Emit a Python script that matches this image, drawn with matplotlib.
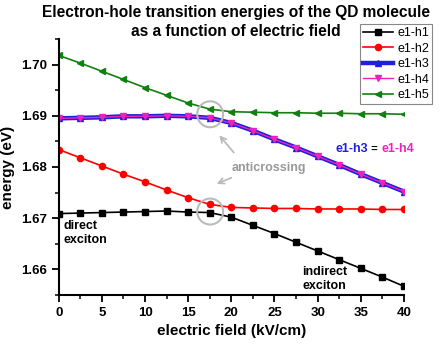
import numpy as np
import matplotlib.pyplot as plt
from matplotlib.patches import Ellipse

plt.rcParams['font.family'] = ['Liberation Sans', 'DejaVu Sans']

# DATA
field = [0, 2.5, 5, 7.5, 10, 12.5, 15, 17.5, 20, 22.5, 25, 27.5, 30, 32.5, 35, 37.5, 40]
e1h1 = [1.6709, 1.6710, 1.6711, 1.6712, 1.6713, 1.6714, 1.6712, 1.6711, 1.6702,
        1.6686, 1.6670, 1.6653, 1.6636, 1.6619, 1.6602, 1.6585, 1.6567]
e1h2 = [1.6834, 1.6818, 1.6802, 1.6786, 1.6771, 1.6755, 1.6740, 1.6727, 1.6721,
        1.6720, 1.6719, 1.6719, 1.6718, 1.6718, 1.6718, 1.6717, 1.6717]
e1h3 = [1.6895, 1.6896, 1.6897, 1.6899, 1.6899, 1.6900, 1.6899, 1.6896, 1.6886,
        1.6871, 1.6854, 1.6838, 1.6821, 1.6804, 1.6786, 1.6769, 1.6752]
e1h4 = e1h3
e1h5 = [1.7018, 1.7003, 1.6987, 1.6971, 1.6955, 1.6940, 1.6925, 1.6913, 1.6908,
        1.6907, 1.6906, 1.6906, 1.6905, 1.6905, 1.6904, 1.6904, 1.6903]

MAG = '#ee22bb'
BLUE = '#1f1fdd'

fig = plt.figure(figsize=(4.4, 3.47), dpi=100)
ax = fig.add_axes([0.1334, 0.1499, 0.7846, 0.7377])

ax.plot(field, e1h1, '-s', color='black', lw=1.2, ms=4.5, label='e1-h1')
ax.plot(field, e1h2, '-o', color='red', lw=1.2, ms=4.5, label='e1-h2')
ax.plot(field, e1h3, '-^', color=BLUE, lw=3.2, ms=5, label='e1-h3')
ax.plot(field, e1h4, '-v', color=MAG, lw=1.0, ms=5, label='e1-h4')
ax.plot(field, e1h5, '-<', color='#108010', lw=1.2, ms=5, label='e1-h5')

ax.set_xlim(0, 40)
ax.set_ylim(1.655, 1.7047)
ax.set_xticks(np.arange(0, 41, 5))
ax.set_xticks(np.arange(0, 41, 2.5), minor=True)
ax.set_yticks([1.66, 1.67, 1.68, 1.69, 1.70])
ax.set_yticks(np.arange(1.655, 1.705, 0.005), minor=True)
ax.set_yticklabels(['1.66', '1.67', '1.68', '1.69', '1.70'])
ax.spines['top'].set_visible(False)
ax.spines['right'].set_visible(False)
ax.spines['left'].set_linewidth(1.5)
ax.spines['bottom'].set_linewidth(1.5)
ax.tick_params(which='major', length=5, width=1.3, labelsize=9.5)
ax.tick_params(which='minor', length=3, width=1.1)
for lab in ax.get_xticklabels() + ax.get_yticklabels():
    lab.set_fontweight('bold')

ax.set_xlabel('electric field (kV/cm)', fontsize=11, fontweight='bold')
ax.set_ylabel('energy (eV)', fontsize=11, fontweight='bold')

# TITLE, TWO LINES
fig.text(0.537, 1 - 17/347, 'Electron-hole transition energies of the QD molecule',
         ha='center', va='baseline', fontsize=11.2, fontweight='bold')
fig.text(0.537, 1 - 36/347, 'as a function of electric field',
         ha='center', va='baseline', fontsize=11.2, fontweight='bold')

leg = ax.legend(loc='upper right', bbox_to_anchor=(432/440, 1-24/347),
                bbox_transform=fig.transFigure, fontsize=9, fancybox=False,
                framealpha=1, edgecolor='#888888', handlelength=2.4,
                borderpad=0.25, labelspacing=0.28, handletextpad=0.3, borderaxespad=0)
leg.get_frame().set_linewidth(0.8)

# ANTICROSSING MARKERS
for yc in [1.6903, 1.6713]:
    ax.add_patch(Ellipse((17.55, yc), 26/8.66, 26/5130, fill=False,
                         edgecolor='#bbbbbb', lw=1.5, zorder=5))
ax.text(24.4, 1.6798, 'anticrossing', color='#999999', fontsize=9,
        fontweight='bold', ha='center', va='center')
ax.annotate('', xy=(18.4, 1.6866), xytext=(20.5, 1.6824),
            arrowprops=dict(arrowstyle='->', color='#bbbbbb', lw=1.3))
ax.annotate('', xy=(18.0, 1.6765), xytext=(20.3, 1.6781),
            arrowprops=dict(arrowstyle='->', color='#bbbbbb', lw=1.3))

t1 = ax.text(32.1, 1.6836, 'e1-h3', color=BLUE, fontsize=9,
             fontweight='bold', ha='left', va='center')
t2 = ax.annotate(' = ', xy=(1, 0.5), xycoords=t1, va='center', ha='left',
                 fontsize=8, fontweight='bold', color='black')
ax.annotate('e1-h4', xy=(1, 0.5), xycoords=t2, va='center', ha='left',
            fontsize=9, fontweight='bold', color=MAG)

ax.text(0.5, 1.6671, 'direct\nexciton', fontsize=9, fontweight='bold',
        ha='left', va='center', linespacing=1.2)
ax.text(28.2, 1.6582, 'indirect\nexciton', fontsize=9, fontweight='bold',
        ha='left', va='center', linespacing=1.2)

plt.savefig('out.png', dpi=100)
